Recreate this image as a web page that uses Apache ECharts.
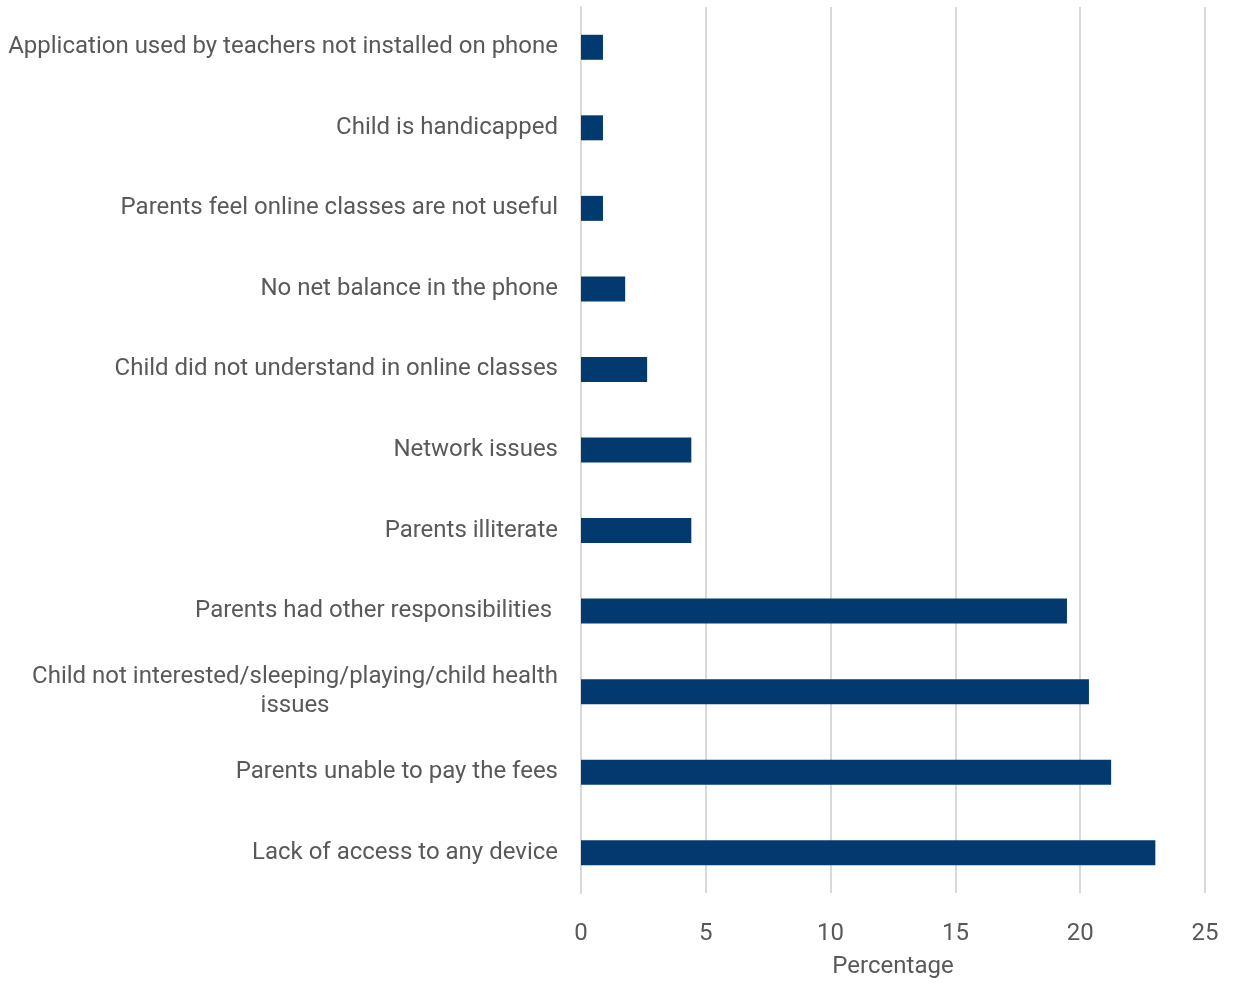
<!DOCTYPE html>
<html>
<head>
<meta charset="utf-8">
<script src="https://cdn.jsdelivr.net/npm/echarts@6/dist/echarts.min.js"></script>
<style>
html,body{margin:0;padding:0;background:#fff;}
#chart{width:1233px;height:984px;}
</style>
</head>
<body>
<div id="chart"></div>
<script>
const categories = [
  "Application used by teachers not installed on phone",
  "Child is handicapped",
  "Parents feel online classes are not useful",
  "No net balance in the phone",
  "Child did not understand in online classes",
  "Network issues",
  "Parents illiterate",
  "Parents had other responsibilities ",
  "Child not interested/sleeping/playing/child health\nissues",
  "Parents unable to pay the fees",
  "Lack of access to any device"
];
const percentages = [0.88, 0.88, 0.88, 1.77, 2.65, 4.42, 4.42, 19.47, 20.35, 21.24, 23.01];
const xTicks = [0, 5, 10, 15, 20, 25];

const chart = echarts.init(document.getElementById('chart'));
const font = 'Roboto';
const labelStyle = { fontFamily: font, fontSize: 24, color: '#595959', lineHeight: 29 };
chart.setOption({
  animation: false,
  grid: { left: 581, right: 28, top: 7, bottom: 82, containLabel: false },
  xAxis: {
    type: 'value',
    min: xTicks[0],
    max: xTicks[xTicks.length - 1],
    interval: 5,
    name: 'Percentage',
    nameLocation: 'middle',
    nameGap: 62,
    nameTextStyle: { fontFamily: font, fontSize: 24, color: '#595959' },
    axisLine: { show: false },
    axisTick: { show: false },
    axisLabel: { fontFamily: font, fontSize: 24, color: '#595959', margin: 29 },
    splitLine: { show: true, lineStyle: { color: '#d9d9d9', width: 2 } }
  },
  yAxis: {
    type: 'category',
    inverse: true,
    data: categories,
    axisLine: { show: true, lineStyle: { color: '#d9d9d9', width: 2 } },
    axisTick: { show: false },
    axisLabel: {
      margin: 23,
      align: 'right',
      formatter: function (v) { return '{c|' + v + '}'; },
      rich: { c: Object.assign({ align: 'center' }, labelStyle) }
    }
  },
  series: [{
    type: 'bar',
    data: percentages,
    barWidth: 25,
    itemStyle: { color: '#023a70' }
  }]
});
</script>
</body>
</html>
